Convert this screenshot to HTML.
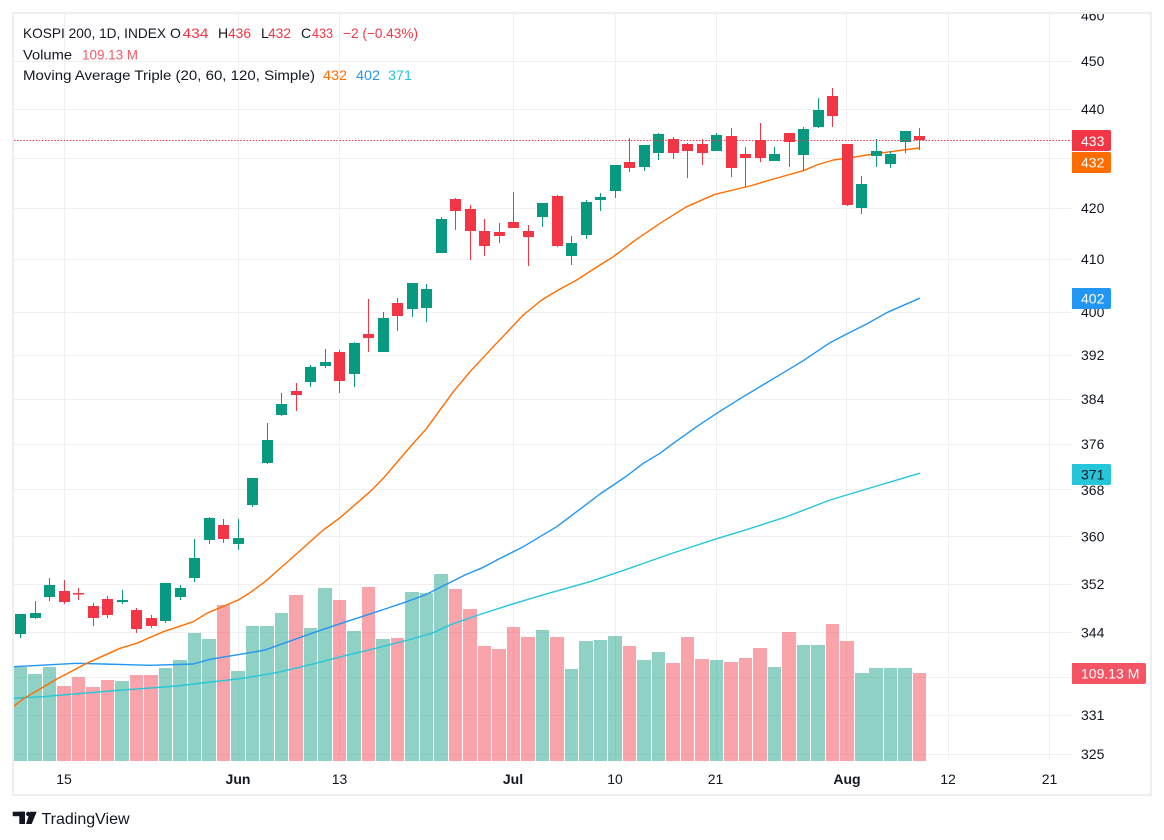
<!DOCTYPE html>
<html><head><meta charset="utf-8"><style>
html,body{margin:0;padding:0;background:#fff;}
svg{display:block;}
text{font-family:"Liberation Sans",Arial,sans-serif;}
</style></head><body>
<svg width="1164" height="840" viewBox="0 0 1164 840" xmlns="http://www.w3.org/2000/svg">
<rect x="0" y="0" width="1164" height="840" fill="#ffffff"/>
<defs><clipPath id="c"><rect x="14" y="14" width="1136" height="780"/></clipPath><clipPath id="p"><rect x="14" y="14" width="1057" height="748"/></clipPath></defs>
<g clip-path="url(#c)">
<!-- grid -->
<g stroke="#f0f0f0" stroke-width="1">
<line x1="14" x2="1071" y1="61.5" y2="61.5"/><line x1="14" x2="1071" y1="109.5" y2="109.5"/><line x1="14" x2="1071" y1="158.5" y2="158.5"/><line x1="14" x2="1071" y1="208.5" y2="208.5"/><line x1="14" x2="1071" y1="259.5" y2="259.5"/><line x1="14" x2="1071" y1="312.5" y2="312.5"/><line x1="14" x2="1071" y1="355.5" y2="355.5"/><line x1="14" x2="1071" y1="399.5" y2="399.5"/><line x1="14" x2="1071" y1="444.5" y2="444.5"/><line x1="14" x2="1071" y1="489.5" y2="489.5"/><line x1="14" x2="1071" y1="536.5" y2="536.5"/><line x1="14" x2="1071" y1="584.5" y2="584.5"/><line x1="14" x2="1071" y1="632.5" y2="632.5"/><line x1="14" x2="1071" y1="677.5" y2="677.5"/><line x1="14" x2="1071" y1="715.5" y2="715.5"/><line x1="14" x2="1071" y1="754.5" y2="754.5"/>
<line x1="64.5" x2="64.5" y1="14" y2="761"/><line x1="238.5" x2="238.5" y1="14" y2="761"/><line x1="339.5" x2="339.5" y1="14" y2="761"/><line x1="513.5" x2="513.5" y1="14" y2="761"/><line x1="615.5" x2="615.5" y1="14" y2="761"/><line x1="716.5" x2="716.5" y1="14" y2="761"/><line x1="846.5" x2="846.5" y1="14" y2="761"/><line x1="948.5" x2="948.5" y1="14" y2="761"/><line x1="1049.5" x2="1049.5" y1="14" y2="761"/>
</g>
<!-- volume -->
<g fill="rgba(8,153,129,0.45)">
<rect x="14" y="667" width="13" height="94"/><rect x="28" y="674" width="14" height="87"/><rect x="43" y="667" width="13" height="94"/>
<rect x="115" y="681" width="14" height="80"/><rect x="159" y="668" width="13" height="93"/><rect x="173" y="660" width="14" height="101"/><rect x="188" y="633" width="13" height="128"/><rect x="202" y="639" width="14" height="122"/>
<rect x="231" y="671" width="14" height="90"/><rect x="246" y="626" width="13" height="135"/><rect x="260" y="626" width="14" height="135"/><rect x="275" y="613" width="13" height="148"/>
<rect x="304" y="628" width="13" height="133"/><rect x="318" y="588" width="14" height="173"/><rect x="347" y="631" width="14" height="130"/><rect x="376" y="639" width="14" height="122"/>
<rect x="405" y="592" width="14" height="169"/><rect x="420" y="593" width="13" height="168"/><rect x="434" y="574" width="14" height="187"/>
<rect x="536" y="630" width="13" height="131"/><rect x="565" y="669" width="13" height="92"/><rect x="579" y="641" width="14" height="120"/><rect x="594" y="640" width="13" height="121"/><rect x="608" y="636" width="14" height="125"/>
<rect x="637" y="660" width="14" height="101"/><rect x="652" y="652" width="13" height="109"/><rect x="710" y="660" width="13" height="101"/><rect x="768" y="667" width="13" height="94"/>
<rect x="797" y="645" width="13" height="116"/><rect x="811" y="645" width="14" height="116"/><rect x="855" y="673" width="14" height="88"/><rect x="869" y="668" width="14" height="93"/><rect x="884" y="668" width="13" height="93"/><rect x="898" y="668" width="14" height="93"/>
</g>
<g fill="rgba(242,54,69,0.45)">
<rect x="57" y="686" width="14" height="75"/><rect x="72" y="677" width="13" height="84"/><rect x="86" y="687" width="14" height="74"/><rect x="101" y="680" width="13" height="81"/>
<rect x="130" y="675" width="13" height="86"/><rect x="144" y="675" width="14" height="86"/><rect x="217" y="605" width="13" height="156"/>
<rect x="289" y="595" width="14" height="166"/><rect x="333" y="600" width="13" height="161"/><rect x="362" y="587" width="13" height="174"/><rect x="391" y="638" width="13" height="123"/>
<rect x="449" y="589" width="13" height="172"/><rect x="463" y="609" width="14" height="152"/><rect x="478" y="646" width="13" height="115"/><rect x="492" y="649" width="14" height="112"/><rect x="507" y="627" width="13" height="134"/><rect x="521" y="637" width="14" height="124"/><rect x="550" y="637" width="14" height="124"/>
<rect x="623" y="646" width="13" height="115"/><rect x="666" y="663" width="14" height="98"/><rect x="681" y="637" width="13" height="124"/><rect x="695" y="659" width="14" height="102"/><rect x="724" y="662" width="14" height="99"/><rect x="739" y="658" width="13" height="103"/><rect x="753" y="648" width="14" height="113"/>
<rect x="782" y="632" width="14" height="129"/><rect x="826" y="624" width="13" height="137"/><rect x="840" y="641" width="14" height="120"/><rect x="913" y="673" width="13" height="88"/>
</g>
<!-- MA lines -->
<g fill="none" stroke-width="1.4" stroke-linejoin="round" stroke-linecap="round" clip-path="url(#p)">
<polyline stroke="#26c6da" points="13,698.3 43,696.7 110,691 176.7,686 243,678.3 278.3,672.3 311.7,664.3 345,655.7 378.3,647.7 411.7,639 431.7,633.3 451.7,624.3 478.3,615 511.7,604.3 545,594.3 590,581.7 626.7,569.3 670,554 716.7,538.7 743.3,530.7 786.7,516.7 830,500 846.7,495 876.7,486 919.5,473.3"/>
<polyline stroke="#2196f3" points="13,666.7 76.7,663.3 103,664 150,665.3 193.3,664 210,659.3 250,652.7 265,650 288.3,641.7 311.7,633.3 338.3,624.3 361.7,616.7 385,609 405,602.3 425,595 445,585 465,575 483.3,567.3 498.3,559.3 523.3,546.7 556.7,526.7 583.3,506.7 600,494 626.7,476 643.3,463.3 660,453.3 673.3,443.3 696.7,426.7 716.7,413.3 743.3,396.7 776.7,376.7 801.7,361.7 830,342.7 846.7,334 866.7,324 886.7,312.7 919.5,298.3"/>
<polyline stroke="#ff6d00" points="13,707 23.3,698.7 41.7,688 55,680 86.7,663.3 120,648.3 136.7,643.3 163.3,631.7 193.3,621.7 206.7,613.3 238.3,600 250,592.7 265,581.7 278.3,570 323.3,530 339.3,518.3 370,491.7 383.3,478.3 410,447 426.7,428.3 453.3,391.7 470,371.7 493.3,346.7 523.3,315 541.7,300 558.3,290 576.7,280 600,265 613.3,256.7 636,239.7 660,223.3 686.7,206.7 715,194.3 750,186 770,180 803.3,170.7 816.7,165 833.3,160 853.3,157.3 873.3,154 903.3,150 919.5,148"/>
</g>
<!-- candles green -->
<g fill="#089981">
<rect x="15" y="614" width="11" height="20"/><rect x="20" y="614" width="1" height="24"/>
<rect x="30" y="613" width="11" height="5"/><rect x="35" y="601" width="1" height="18"/>
<rect x="44" y="585" width="11" height="12"/><rect x="49" y="578" width="1" height="23"/>
<rect x="117" y="600" width="11" height="2"/><rect x="122" y="590" width="1" height="14"/>
<rect x="160" y="583" width="11" height="38"/><rect x="165" y="583" width="1" height="40"/>
<rect x="175" y="588" width="11" height="9"/><rect x="180" y="585" width="1" height="15"/>
<rect x="189" y="558" width="11" height="20"/><rect x="194" y="539" width="1" height="43"/>
<rect x="204" y="518" width="11" height="22"/><rect x="209" y="517" width="1" height="27"/>
<rect x="233" y="538" width="11" height="6"/><rect x="238" y="519" width="1" height="31"/>
<rect x="247" y="478" width="11" height="27"/><rect x="252" y="478" width="1" height="29"/>
<rect x="262" y="440" width="11" height="23"/><rect x="267" y="423" width="1" height="41"/>
<rect x="276" y="404" width="11" height="11"/><rect x="281" y="393" width="1" height="23"/>
<rect x="305" y="367" width="11" height="15"/><rect x="310" y="365" width="1" height="22"/>
<rect x="320" y="362" width="11" height="4"/><rect x="325" y="349" width="1" height="19"/>
<rect x="349" y="343" width="11" height="31"/><rect x="354" y="342" width="1" height="45"/>
<rect x="378" y="318" width="11" height="34"/><rect x="383" y="312" width="1" height="40"/>
<rect x="407" y="283" width="11" height="26"/><rect x="412" y="283" width="1" height="34"/>
<rect x="421" y="289" width="11" height="19"/><rect x="426" y="284" width="1" height="38"/>
<rect x="436" y="219" width="11" height="34"/><rect x="441" y="217" width="1" height="36"/>
<rect x="537" y="203" width="11" height="14"/><rect x="542" y="203" width="1" height="24"/>
<rect x="566" y="243" width="11" height="13"/><rect x="571" y="236" width="1" height="29"/>
<rect x="581" y="202" width="11" height="33"/><rect x="586" y="200" width="1" height="39"/>
<rect x="595" y="197" width="11" height="3"/><rect x="600" y="193" width="1" height="18"/>
<rect x="610" y="165" width="11" height="26"/><rect x="615" y="165" width="1" height="33"/>
<rect x="639" y="145" width="11" height="22"/><rect x="644" y="145" width="1" height="26"/>
<rect x="653" y="134" width="11" height="19"/><rect x="658" y="133" width="1" height="27"/>
<rect x="711" y="135" width="11" height="16"/><rect x="716" y="133" width="1" height="18"/>
<rect x="769" y="154" width="11" height="7"/><rect x="774" y="147" width="1" height="14"/>
<rect x="798" y="129" width="11" height="26"/><rect x="803" y="127" width="1" height="44"/>
<rect x="813" y="110" width="11" height="17"/><rect x="818" y="98" width="1" height="30"/>
<rect x="856" y="184" width="11" height="24"/><rect x="861" y="176" width="1" height="38"/>
<rect x="871" y="151" width="11" height="5"/><rect x="876" y="139" width="1" height="28"/>
<rect x="885" y="154" width="11" height="10"/><rect x="890" y="151" width="1" height="17"/>
<rect x="900" y="131" width="11" height="11"/><rect x="905" y="131" width="1" height="22"/>
</g>
<!-- candles red -->
<g fill="#f23645">
<rect x="59" y="591" width="11" height="11"/><rect x="64" y="580" width="1" height="24"/>
<rect x="73" y="593" width="11" height="1.5"/><rect x="78" y="588" width="1" height="12"/>
<rect x="88" y="606" width="11" height="12"/><rect x="93" y="603" width="1" height="23"/>
<rect x="102" y="599" width="11" height="16"/><rect x="107" y="596" width="1" height="22"/>
<rect x="131" y="610" width="11" height="19"/><rect x="136" y="608" width="1" height="25"/>
<rect x="146" y="618" width="11" height="8"/><rect x="151" y="615" width="1" height="13"/>
<rect x="218" y="525" width="11" height="14"/><rect x="223" y="519" width="1" height="24"/>
<rect x="291" y="391" width="11" height="4"/><rect x="296" y="383" width="1" height="28"/>
<rect x="334" y="352" width="11" height="29"/><rect x="339" y="350" width="1" height="43"/>
<rect x="363" y="334" width="11" height="4"/><rect x="368" y="299" width="1" height="53"/>
<rect x="392" y="303" width="11" height="13"/><rect x="397" y="298" width="1" height="33"/>
<rect x="450" y="199" width="11" height="12"/><rect x="455" y="198" width="1" height="32"/>
<rect x="465" y="209" width="11" height="22"/><rect x="470" y="205" width="1" height="55"/>
<rect x="479" y="231" width="11" height="15"/><rect x="484" y="219" width="1" height="37"/>
<rect x="494" y="232" width="11" height="4"/><rect x="499" y="223" width="1" height="20"/>
<rect x="508" y="222" width="11" height="6"/><rect x="513" y="192" width="1" height="36"/>
<rect x="523" y="231" width="11" height="6"/><rect x="528" y="225" width="1" height="41"/>
<rect x="552" y="196" width="11" height="50"/><rect x="557" y="195" width="1" height="52"/>
<rect x="624" y="162" width="11" height="6"/><rect x="629" y="138" width="1" height="34"/>
<rect x="668" y="139" width="11" height="14"/><rect x="673" y="137" width="1" height="22"/>
<rect x="682" y="144" width="11" height="7"/><rect x="687" y="143" width="1" height="35"/>
<rect x="697" y="144" width="11" height="9"/><rect x="702" y="139" width="1" height="26"/>
<rect x="726" y="136" width="11" height="32"/><rect x="731" y="128" width="1" height="49"/>
<rect x="740" y="154" width="11" height="4"/><rect x="745" y="147" width="1" height="40"/>
<rect x="755" y="140" width="11" height="18"/><rect x="760" y="123" width="1" height="39"/>
<rect x="784" y="133" width="11" height="9"/><rect x="789" y="133" width="1" height="34"/>
<rect x="827" y="96" width="11" height="20"/><rect x="832" y="88" width="1" height="39"/>
<rect x="842" y="144" width="11" height="61"/><rect x="847" y="144" width="1" height="62"/>
<rect x="914" y="136" width="11" height="4"/><rect x="919" y="128" width="1" height="22"/>
</g>
<!-- last price dotted line -->
<line x1="14" x2="1071" y1="140.5" y2="140.5" stroke="#f23645" stroke-width="1" stroke-dasharray="1.5 1.6"/>
<!-- price axis labels -->
<g font-size="14" fill="#131722">
<text x="1081" y="20.5">460</text>
<text x="1081" y="66">450</text>
<text x="1081" y="114">440</text>
<text x="1081" y="213">420</text>
<text x="1081" y="264">410</text>
<text x="1081" y="317">400</text>
<text x="1081" y="360">392</text>
<text x="1081" y="404">384</text>
<text x="1081" y="449">376</text>
<text x="1081" y="495">368</text>
<text x="1081" y="541.5">360</text>
<text x="1081" y="589">352</text>
<text x="1081" y="637.5">344</text>
<text x="1081" y="720">331</text>
<text x="1081" y="759">325</text>
</g>
<!-- price value labels -->
<path d="M1072,130 h37 a2,2 0 0 1 2,2 v17 a2,2 0 0 1 -2,2 h-37 z" fill="#f23645"/>
<text x="1081" y="146" font-size="14" fill="#ffffff">433</text>
<path d="M1072,152 h37 a2,2 0 0 1 2,2 v17 a2,2 0 0 1 -2,2 h-37 z" fill="#ff6d00"/>
<text x="1081" y="167.5" font-size="14" fill="#ffffff">432</text>
<path d="M1072,288 h37 a2,2 0 0 1 2,2 v17 a2,2 0 0 1 -2,2 h-37 z" fill="#2196f3"/>
<text x="1081" y="303.5" font-size="14" fill="#ffffff">402</text>
<path d="M1072,464 h37 a2,2 0 0 1 2,2 v17 a2,2 0 0 1 -2,2 h-37 z" fill="#26c6da"/>
<text x="1081" y="479.5" font-size="14" fill="#131722">371</text>
<path d="M1072,663 h72 a2,2 0 0 1 2,2 v17 a2,2 0 0 1 -2,2 h-72 z" fill="#f65464"/>
<text x="1081" y="678.5" font-size="14" fill="#ffffff">109.13 M</text>
<!-- time axis labels -->
<g font-size="14" fill="#131722" text-anchor="middle">
<text x="64" y="784">15</text>
<text x="238" y="784" font-weight="bold">Jun</text>
<text x="339.5" y="784">13</text>
<text x="513" y="784" font-weight="bold">Jul</text>
<text x="615" y="784">10</text>
<text x="715.5" y="784">21</text>
<text x="847" y="784" font-weight="bold">Aug</text>
<text x="948" y="784">12</text>
<text x="1049.5" y="784">21</text>
</g>
<!-- legend -->
<g font-size="14">
<text x="23" y="38" fill="#131722" textLength="143" lengthAdjust="spacingAndGlyphs">KOSPI 200, 1D, INDEX</text>
<text x="170" y="38" fill="#131722">O</text><text x="182.5" y="38" fill="#f23645" textLength="26" lengthAdjust="spacingAndGlyphs">434</text>
<text x="218" y="38" fill="#131722">H</text><text x="228" y="38" fill="#f23645" textLength="23" lengthAdjust="spacingAndGlyphs">436</text>
<text x="261" y="38" fill="#131722">L</text><text x="268" y="38" fill="#f23645" textLength="23" lengthAdjust="spacingAndGlyphs">432</text>
<text x="301" y="38" fill="#131722">C</text><text x="312" y="38" fill="#f23645" textLength="21" lengthAdjust="spacingAndGlyphs">433</text>
<text x="343" y="38" fill="#f23645" textLength="75" lengthAdjust="spacingAndGlyphs">−2 (−0.43%)</text>
<text x="23" y="59.5" fill="#131722" textLength="49" lengthAdjust="spacingAndGlyphs">Volume</text>
<text x="82" y="59.5" fill="#f45a69" textLength="56" lengthAdjust="spacingAndGlyphs">109.13 M</text>
<text x="23" y="80" fill="#131722" textLength="292" lengthAdjust="spacingAndGlyphs">Moving Average Triple (20, 60, 120, Simple)</text>
<text x="323" y="80" fill="#ff6d00" textLength="24" lengthAdjust="spacingAndGlyphs">432</text>
<text x="356" y="80" fill="#2196f3" textLength="24" lengthAdjust="spacingAndGlyphs">402</text>
<text x="388" y="80" fill="#26c6da" textLength="24" lengthAdjust="spacingAndGlyphs">371</text>
</g>
</g>
<!-- border -->
<rect x="13" y="13" width="1138" height="782" fill="none" stroke="#eeeeee" stroke-width="2"/>
<!-- TradingView logo -->
<g fill="#131722">
<rect x="12.7" y="811.7" width="12.3" height="4.5"/>
<rect x="19.3" y="811.7" width="5.7" height="12.3"/>
<circle cx="28.2" cy="814" r="2.2"/>
<polygon points="30,811.7 36.7,811.7 31.7,824 26,824"/>
</g>
<text x="41.5" y="824" font-size="16" fill="#131722">TradingView</text>
</svg>
</body></html>
